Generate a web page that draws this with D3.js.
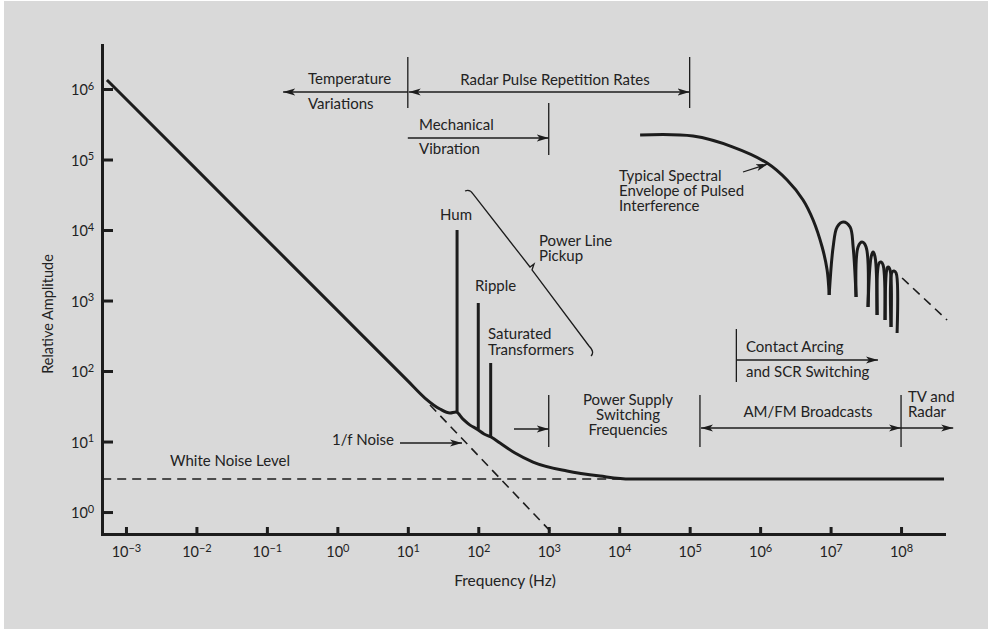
<!DOCTYPE html>
<html>
<head>
<meta charset="utf-8">
<script src="https://cdn.jsdelivr.net/npm/d3@7"></script>
<style>
body { margin: 0; background: #fff; }
text { font-family: Lato, "Open Sans", sans-serif; fill: #222; }
</style>
</head>
<body>
<svg id="chart" width="989" height="631"></svg>
<script>
// tick values
var xTicks = [1e-3, 1e-2, 1e-1, 1e0, 1e1, 1e2, 1e3, 1e4, 1e5, 1e6, 1e7, 1e8];
var yTicks = [1e0, 1e1, 1e2, 1e3, 1e4, 1e5, 1e6];

// main noise curve (Hz, relative amplitude)
var mainFreq = [5.37e-4, 1e-2, 1, 10, 17.5, 28.6, 39.7, 48.3, 60.7, 76.4, 95.9, 120.8, 151.7, 203.7, 332.7, 598.4, 1820, 5346, 14260, 4.07e8];
var mainAmp  = [1.343e6, 7.24e4, 724, 72.4, 41.4, 28.9, 25.4, 26.2, 20.8, 17.1, 15.0, 12.8, 11.6, 9.53, 6.87, 5.12, 3.82, 3.24, 2.94, 2.94];

// power line spikes: hum, ripple, saturated transformers
var spikeFreq = [50, 100, 150];
var spikePeak = [1e4, 922, 130];
var spikeBase = [25.4, 15.0, 11.6];

// spectral envelope of pulsed interference
var envFreq = [1.98e4, 1.117e5, 4.13e5, 1.256e6, 2.415e6, 4.07e6, 5.65e6, 7.59e6, 8.93e6, 9.55e6,
               1.087e7, 1.239e7, 1.507e7, 1.892e7, 2.09e7, 2.30e7,
               2.455e7, 2.80e7, 3.19e7, 3.40e7,
               3.76e7, 4.01e7, 4.28e7, 4.57e7,
               4.88e7, 5.2e7, 5.56e7, 5.93e7,
               6.34e7, 6.55e7, 6.98e7, 7.21e7,
               7.46e7, 7.96e7, 8.51e7, 8.79e7];
var envAmp  = [2.23e5, 2.15e5, 1.503e5, 8.91e4, 5.12e4, 2.67e4, 1.387e4, 5740, 2710, 1197,
               5740, 1.104e4, 1.297e4, 1.104e4, 5740, 1122,
               5740, 6760, 5740, 809,
               4140, 4875, 4140, 623,
               3400, 3515, 3190, 529,
               2890, 2985, 2710, 421,
               2535, 2620, 2455, 346];
var envNulls = [9.55e6, 2.30e7, 3.40e7, 4.57e7, 5.93e7, 7.21e7];

// dashed reference lines
var oneOverFFreq = [20.65, 1151];
var oneOverFAmp  = [33, 0.488];
var whiteFreq = [4.6e-4, 14260];
var whiteAmp  = [2.94, 2.94];
var tailFreq = [1.035e8, 4.5e8];
var tailAmp  = [2085, 529];

var svg = d3.select("#chart");
var ink = "#1c1c1c";

svg.append("rect")
    .attr("x", 4).attr("y", 1)
    .attr("width", 984).attr("height", 628)
    .attr("fill", "#d9d9d9");

var x = d3.scaleLog().domain([4.57e-4, 4.07e8]).range([102, 944]);
var y = d3.scaleLog().domain([0.488, 4.21e6]).range([534, 45]);

var defs = svg.append("defs");
defs.append("marker")
    .attr("id", "arr")
    .attr("viewBox", "0 -5 12 10")
    .attr("refX", 12).attr("refY", 0)
    .attr("markerWidth", 12).attr("markerHeight", 10)
    .attr("markerUnits", "userSpaceOnUse")
    .attr("orient", "auto-start-reverse")
  .append("path")
    .attr("d", "M0,-3.5L12,0L0,3.5L3,0Z")
    .attr("fill", ink);

// axes
var gx = svg.append("g")
    .attr("transform", "translate(0,534)")
    .call(d3.axisBottom(x).tickValues(xTicks).tickSizeInner(-7).tickSizeOuter(0).tickFormat(""));
var gy = svg.append("g")
    .attr("transform", "translate(102,0)")
    .call(d3.axisLeft(y).tickValues(yTicks).tickSizeInner(-11).tickSizeOuter(0).tickFormat(""));

[gx, gy].forEach(function(g) {
  g.select(".domain").attr("stroke", ink).attr("stroke-width", 3).attr("stroke-linecap", "square");
  g.selectAll(".tick line").attr("stroke", ink).attr("stroke-width", 3);
});

function expLabel(d) {
  return String(Math.round(Math.log10(d))).replace("-", "\u2212");
}

gx.selectAll(".tick").each(function(d) {
  var t = d3.select(this).append("text")
      .attr("y", 23).attr("text-anchor", "middle")
      .attr("font-size", 14.5);
  t.append("tspan").text("10");
  t.append("tspan").attr("dy", -5.5).attr("font-size", 11).text(expLabel(d));
});
gy.selectAll(".tick").each(function(d) {
  var t = d3.select(this).append("text")
      .attr("x", -31).attr("y", 5.5).attr("text-anchor", "start")
      .attr("font-size", 14.5);
  t.append("tspan").text("10");
  t.append("tspan").attr("dy", -5.5).attr("font-size", 11).text(expLabel(d));
});

svg.append("text")
    .attr("transform", "translate(53,314) rotate(-90)")
    .attr("text-anchor", "middle")
    .attr("font-size", 14.5)
    .text("Relative Amplitude");
svg.append("text")
    .attr("x", 505).attr("y", 586)
    .attr("text-anchor", "middle")
    .attr("font-size", 15.5)
    .text("Frequency (Hz)");

// curves
var smooth = d3.line()
    .x(function(d) { return x(d[0]); })
    .y(function(d) { return y(d[1]); })
    .curve(d3.curveCatmullRom.alpha(0.5));
var mono = d3.line()
    .x(function(d) { return x(d[0]); })
    .y(function(d) { return y(d[1]); })
    .curve(d3.curveMonotoneX);
var straight = d3.line()
    .x(function(d) { return x(d[0]); })
    .y(function(d) { return y(d[1]); });

function dashed(fs, as) {
  svg.append("path")
      .attr("d", straight(d3.zip(fs, as)))
      .attr("fill", "none").attr("stroke", ink)
      .attr("stroke-width", 1.6).attr("stroke-dasharray", "9,6");
}
dashed(whiteFreq, whiteAmp);
dashed(oneOverFFreq, oneOverFAmp);
dashed(tailFreq, tailAmp);

svg.append("path")
    .attr("d", mono(d3.zip(mainFreq, mainAmp)))
    .attr("fill", "none").attr("stroke", ink).attr("stroke-width", 3);

svg.selectAll(".spike")
    .data(d3.range(spikeFreq.length))
  .enter().append("line")
    .attr("class", "spike")
    .attr("x1", function(i) { return x(spikeFreq[i]); })
    .attr("x2", function(i) { return x(spikeFreq[i]); })
    .attr("y1", function(i) { return y(spikeBase[i]); })
    .attr("y2", function(i) { return y(spikePeak[i]); })
    .attr("stroke", ink).attr("stroke-width", 3);

// split the envelope into lobes at the nulls
var envPts = d3.zip(envFreq, envAmp);
var lobes = [], cur = [];
envPts.forEach(function(p) {
  cur.push(p);
  if (envNulls.indexOf(p[0]) >= 0) { lobes.push(cur); cur = [p]; }
});
if (cur.length > 1) lobes.push(cur);
svg.selectAll(".lobe")
    .data(lobes)
  .enter().append("path")
    .attr("class", "lobe")
    .attr("d", smooth)
    .attr("fill", "none").attr("stroke", ink)
    .attr("stroke-width", 3).attr("stroke-linejoin", "round");

// annotations
var ann = svg.append("g").attr("stroke", ink).attr("stroke-width", 1.3).attr("fill", "none");

function vline(f, y1, y2) {
  ann.append("line").attr("x1", x(f)).attr("x2", x(f)).attr("y1", y1).attr("y2", y2);
}
function arrow(f1, f2, yy, both) {
  var l = ann.append("line").attr("x1", x(f1)).attr("x2", x(f2)).attr("y1", yy).attr("y2", yy)
      .attr("marker-end", "url(#arr)");
  if (both) l.attr("marker-start", "url(#arr)");
}

vline(10, 57, 108);
vline(1e5, 57, 108);
arrow(10, 0.17, 92, false);
arrow(10.3, 1e5, 92, true);

vline(1e3, 103, 155);
arrow(10, 1e3, 138, false);

vline(1e3, 395, 447);
arrow(321, 1e3, 429, false);
vline(1.4e5, 395, 447);
arrow(1.45e5, 1e8, 428, true);
vline(1e8, 395, 447);
arrow(1e8, 5.5e8, 428, false);

vline(4.6e5, 329, 382);
arrow(4.6e5, 4.7e7, 360, false);

ann.append("line").attr("x1", 400).attr("x2", 462).attr("y1", 443).attr("y2", 443)
    .attr("marker-end", "url(#arr)");
ann.append("line").attr("x1", 743).attr("x2", 768).attr("y1", 172).attr("y2", 164)
    .attr("marker-end", "url(#arr)");

// brace for power line pickup
ann.append("path")
    .attr("d", "M465,191 Q470,189 473,194 L530,267 L534,264 L532,270 L589,346 Q595,352 591,356");

var labels = [
  ["Temperature", 308, 84, "start"],
  ["Variations", 308, 109, "start"],
  ["Radar Pulse Repetition Rates", 555, 85, "middle"],
  ["Mechanical", 419, 130, "start"],
  ["Vibration", 419, 154, "start"],
  ["Typical Spectral", 619, 181, "start"],
  ["Envelope of Pulsed", 619, 196, "start"],
  ["Interference", 619, 211, "start"],
  ["Hum", 440, 220, "start"],
  ["Ripple", 475, 291, "start"],
  ["Saturated", 488, 339, "start"],
  ["Transformers", 488, 355, "start"],
  ["Power Line", 539, 246, "start"],
  ["Pickup", 539, 261, "start"],
  ["Power Supply", 628, 405, "middle"],
  ["Switching", 628, 420, "middle"],
  ["Frequencies", 628, 435, "middle"],
  ["1/f Noise", 332, 445, "start"],
  ["White Noise Level", 170, 466, "start"],
  ["Contact Arcing", 746, 352, "start"],
  ["and SCR Switching", 746, 377, "start"],
  ["AM/FM Broadcasts", 808, 417, "middle"],
  ["TV and", 908, 402, "start"],
  ["Radar", 908, 417, "start"]
];
svg.selectAll(".lab")
    .data(labels)
  .enter().append("text")
    .attr("class", "lab")
    .attr("x", function(d) { return d[1]; })
    .attr("y", function(d) { return d[2]; })
    .attr("text-anchor", function(d) { return d[3]; })
    .attr("font-size", 15)
    .text(function(d) { return d[0]; });
</script>
</body>
</html>
